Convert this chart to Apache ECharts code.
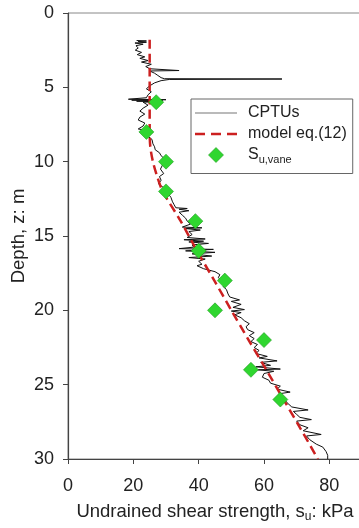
<!DOCTYPE html>
<html>
<head>
<meta charset="utf-8">
<script src="https://cdn.jsdelivr.net/npm/echarts@6/dist/echarts.min.js"></script>
<style>html,body{margin:0;padding:0;background:#fff}#c{width:359px;height:528px}</style>
</head>
<body>
<div id="c"></div>
<script>
// CPTU trace: depth (m) and undrained shear strength (kPa)
const cptuDepth = [1.85,1.88,1.92,1.97,2.02,2.1,2.2,2.35,2.5,2.65,2.8,2.95,3.05,3.2,3.3,3.45,3.6,3.75,3.85,3.87,3.9,4.05,4.2,4.35,4.42,4.44,4.47,4.55,4.7,4.9,5.1,5.3,5.5,5.7,5.8,5.83,5.86,5.9,5.93,5.97,6.0,6.2,6.4,6.6,6.8,7.0,7.2,7.4,7.6,7.8,7.9,8.1,8.3,8.5,8.8,9.0,9.2,9.4,9.6,9.8,10.0,10.2,10.5,10.8,11.0,11.25,11.5,11.7,11.9,12.1,12.4,12.7,12.9,13.1,13.15,13.2,13.3,13.4,13.6,13.8,14.0,14.2,14.4,14.45,14.5,14.6,14.7,14.9,15.1,15.2,15.25,15.35,15.4,15.5,15.6,15.75,15.85,15.9,16.0,16.1,16.2,16.35,16.45,16.55,16.7,16.9,17.0,17.2,17.4,17.6,17.8,18.0,18.2,18.4,18.6,18.9,19.1,19.3,19.4,19.6,19.8,19.95,20.05,20.15,20.3,20.5,20.7,20.9,21.1,21.3,21.5,21.7,21.9,22.1,22.3,22.5,22.7,22.9,23.1,23.2,23.4,23.5,23.7,23.8,23.95,24.0,24.1,24.25,24.5,24.7,24.9,25.1,25.3,25.5,25.6,25.9,26.2,26.5,26.7,26.8,27.0,27.2,27.35,27.45,27.7,27.9,28.1,28.35,28.45,28.7,29.0,29.2,29.5,29.75,30.0];
const cptuSu = [21,24,21.5,24,20.5,23,20.8,21.5,20.6,22.5,21.2,23.5,22,24.5,22.5,25.5,23.8,25,24.5,34,25,26.5,27.5,28.5,29.5,65.5,31,28.5,26.5,25,24,25.5,24.5,24,18.5,30,19.5,29,21,28,23,24.5,23,22,23.5,22,21.5,23.5,23,21.5,24,25,24.5,25.7,26,26.5,26.7,28,28.5,29.5,30,29,28.3,29.3,28,28.5,27.7,29,30,30.5,31.5,32,32.5,33,36.5,34,37,34,35,36,36.5,37.5,35,41,36,40.5,37,38,36.5,42,35.5,41.5,37,43,38,38.5,34,44.5,36,45,38,44,37,42,40,41,39.5,41.5,45,46.5,46,47,48,47.5,48.5,49,49.5,52.5,50,53,50.5,54,50,53,51,53,54,55.5,54.5,55,57,55.5,57,56,58,57,58.5,57.5,61,58.5,64,59,62,57.5,65,58,63,60,59.5,61.5,62,65,64,68,65,66,67,68.5,73.5,69,70,71,74.5,70,71,73.5,72,77.5,73,74,76,78,79,79.5,79.5];

// Model eq.(12)
const modelDepth = [1.8,4,6,8,9,10,11,12,14,16,18,20,22,24,26,28,30];
const modelSu = [25,25,25,25,25.2,26,27.3,29,34.5,39.5,44.8,50,55.3,60.7,66,71.3,76.5];

// Field vane tests
const vaneDepth = [6,8,10,12,14,16,18,20,22,24,26];
const vaneSu = [27,24,30,30,39,40,48,45,60,56,65];

// Axis ticks
const xTicks = [0,20,40,60,80];
const yTicks = [0,5,10,15,20,25,30];

const zip = (a, b) => a.map((v, i) => [v, b[i]]);

const chart = echarts.init(document.getElementById('c'), null, {renderer: 'canvas'});
const FONT = '"Liberation Sans", Arial, sans-serif';
const LINE_ICON = 'path://M0,0H42V1.2H0Z';
const DASH_ICON = 'path://M0,0H10V2.6H0Z M16,0H26V2.6H16Z M32,0H42V2.6H32Z';
const DIAMOND_ICON = 'path://M21,0L27,6L21,12L15,6Z';
chart.setOption({
  animation: false,
  backgroundColor: '#fff',
  textStyle: {fontFamily: FONT},
  grid: {left: 68, top: 13, width: 294, height: 446, show: true, borderColor: '#888', borderWidth: 1,
    backgroundColor: 'transparent', containLabel: false, outerBoundsMode: 'none'},
  xAxis: {
    type: 'value', min: 0, max: 90, interval: 20,
    name: 'Undrained shear strength, s{sub|u}: kPa',
    nameLocation: 'middle', nameGap: 41, nameMoveOverlap: false,
    nameTextStyle: {fontSize: 18.5, color: '#222', fontFamily: FONT, rich: {sub: {fontSize: 12, color: '#222', fontFamily: FONT, padding: [11, 0, 0, 0]}}},
    axisLine: {show: true, onZero: false, lineStyle: {color: '#444', width: 1.2}},
    axisTick: {show: true, inside: false, length: 5, lineStyle: {color: '#444'}},
    axisLabel: {fontSize: 18, color: '#222', margin: 18, fontFamily: FONT,
      formatter: v => xTicks.includes(v) ? String(v) : ''},
    splitLine: {show: false}
  },
  yAxis: {
    type: 'value', min: 0, max: 30, interval: 5, inverse: true,
    name: 'Depth, z: m',
    nameLocation: 'middle', nameGap: 40, nameMoveOverlap: false,
    nameTextStyle: {fontSize: 18.5, color: '#222', fontFamily: FONT},
    axisLine: {show: true, onZero: false, lineStyle: {color: '#444', width: 1.2}},
    axisTick: {show: true, inside: false, length: 5, lineStyle: {color: '#444'}},
    axisLabel: {fontSize: 18, color: '#222', margin: 14, fontFamily: FONT,
      formatter: v => yTicks.includes(v) ? String(v) : ''},
    splitLine: {show: false}
  },
  legend: {
    left: 191, top: 99, orient: 'vertical',
    backgroundColor: '#fff', borderColor: '#666', borderWidth: 1,
    padding: [6, 6, 8, 4], itemGap: 5, itemWidth: 42, itemHeight: 15,
    textStyle: {fontSize: 16, color: '#222', fontFamily: FONT, padding: [0, 0, 0, 6],
      rich: {sub: {fontSize: 11, color: '#222', fontFamily: FONT, padding: [10, 0, 0, 0]}}},
    formatter: name => name === 'Su,vane' ? 'S{sub|u,vane}' : name,
    data: [
      {name: 'CPTUs', icon: LINE_ICON, itemStyle: {color: '#777'}},
      {name: 'model eq.(12)', icon: DASH_ICON, itemStyle: {color: '#cc2020'}},
      {name: 'Su,vane', icon: DIAMOND_ICON, itemStyle: {color: '#2fd62f', borderColor: '#1e9a1e', borderWidth: 0.6}}
    ]
  },
  series: [
    {
      name: 'CPTUs', type: 'line', data: zip(cptuSu, cptuDepth),
      symbol: 'none', lineStyle: {color: '#111', width: 1}, itemStyle: {color: '#777'}, z: 2
    },
    {
      name: 'model eq.(12)', type: 'line', data: zip(modelSu, modelDepth), smooth: 0.3,
      symbol: 'none', lineStyle: {color: '#cc2020', width: 2.5, type: [9, 5]}, itemStyle: {color: '#cc2020'}, z: 3
    },
    {
      name: 'Su,vane', type: 'scatter', data: zip(vaneSu, vaneDepth),
      symbol: 'diamond', symbolSize: 15,
      itemStyle: {color: '#2fd62f', borderColor: '#1e9a1e', borderWidth: 0.6, opacity: 1}, z: 4
    }
  ]
});
</script>
</body>
</html>
